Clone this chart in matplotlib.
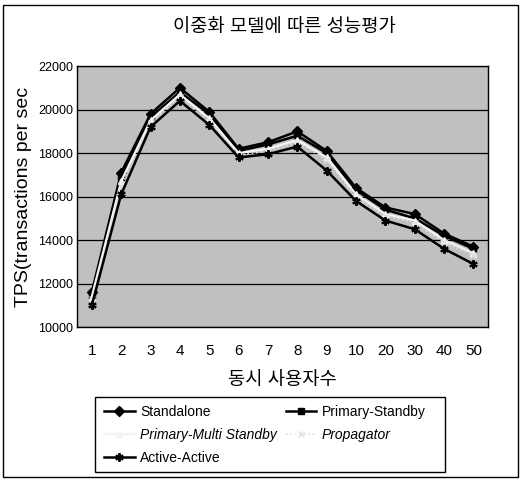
import matplotlib
matplotlib.use("Agg")
import matplotlib.pyplot as plt
import matplotlib.patches as patches

plt.rcParams['font.family'] = ['Liberation Sans', 'Noto Sans CJK KR', 'DejaVu Sans']

# concurrent users (categories)
users = ['1', '2', '3', '4', '5', '6', '7', '8', '9', '10', '20', '30', '40', '50']

standalone = [11600, 17100, 19800, 21000, 19900, 18200, 18500, 19000, 18100, 16400, 15500, 15200, 14300, 13700]
primary_standby = [11500, 16900, 19650, 20800, 19800, 18100, 18400, 18800, 18000, 16300, 15400, 15000, 14200, 13600]
primary_multi = [11400, 16700, 19500, 20700, 19600, 18000, 18200, 18600, 17800, 16100, 15200, 14900, 14000, 13400]
propagator = [11300, 16500, 19400, 20600, 19500, 17900, 18100, 18500, 17700, 15950, 15100, 14800, 13900, 13300]
active_active = [11000, 16100, 19200, 20400, 19300, 17800, 17950, 18300, 17200, 15800, 14900, 14500, 13600, 12900]

y_ticks = [10000, 12000, 14000, 16000, 18000, 20000, 22000]

fig = plt.figure(figsize=(5.21, 4.79), dpi=100)
ax = fig.add_axes([0.148, 0.317, 0.789, 0.545])
ax.set_facecolor('#c0c0c0')

x = list(range(len(users)))
h_sa, = ax.plot(x, standalone, color='black', lw=1.8, marker='D', ms=5)
h_ps, = ax.plot(x, primary_standby, color='black', lw=1.8, marker='s', ms=4.5)
h_pm, = ax.plot(x, primary_multi, color='#f4f4f4', lw=1.6, marker='^', ms=4.5)
h_pr, = ax.plot(x, propagator, color='#e0e0e0', lw=1.2, ls=':', marker='x', ms=5)
h_aa, = ax.plot(x, active_active, color='black', lw=1.8, marker=(6, 2, 0), ms=6, mew=1.5)

ax.set_xlim(-0.5, len(users) - 0.5)
ax.set_ylim(10000, 22000)
ax.set_yticks(y_ticks)
ax.set_yticklabels([str(v) for v in y_ticks], fontsize=9)
ax.set_xticks(x)
ax.set_xticklabels(users, fontsize=11)
ax.tick_params(axis='x', length=0, pad=12)
ax.tick_params(axis='y', length=0, pad=3)
ax.grid(axis='y', color='black', lw=0.9)
ax.set_axisbelow(True)
for s in ax.spines.values():
    s.set_linewidth(1.0)

ax.set_ylabel('TPS(transactions per sec', fontsize=14, labelpad=4)
ax.set_xlabel('동시 사용자수', fontsize=13.5, labelpad=10)
fig.text(0.545, 0.942, '이중화 모델에 따른 성능평가', ha='center', va='center', fontsize=13.5)

handles = [h_sa, h_pm, h_aa, h_ps, h_pr]
labels = ['Standalone', 'Primary-Multi Standby', 'Active-Active', 'Primary-Standby', 'Propagator']
leg = fig.legend(handles, labels, ncol=2, loc='upper left', bbox_to_anchor=(0.184, 0.172),
                 fontsize=10, frameon=False,
                 handlelength=2.2, handletextpad=0.4, labelspacing=0.65, borderaxespad=0,
                 borderpad=0.6, columnspacing=0.6)
for t in leg.get_texts():
    if t.get_text() in ('Primary-Multi Standby', 'Propagator'):
        t.set_style('italic')

# legend box and outer frame
fig.patches.append(patches.Rectangle((0.182, 0.015), 0.672, 0.156, transform=fig.transFigure,
                                     fill=False, edgecolor='black', lw=1.0))
fig.patches.append(patches.Rectangle((0.006, 0.004), 0.988, 0.986, transform=fig.transFigure,
                                     fill=False, edgecolor='black', lw=1.0))

fig.savefig('out.png', dpi=100)
